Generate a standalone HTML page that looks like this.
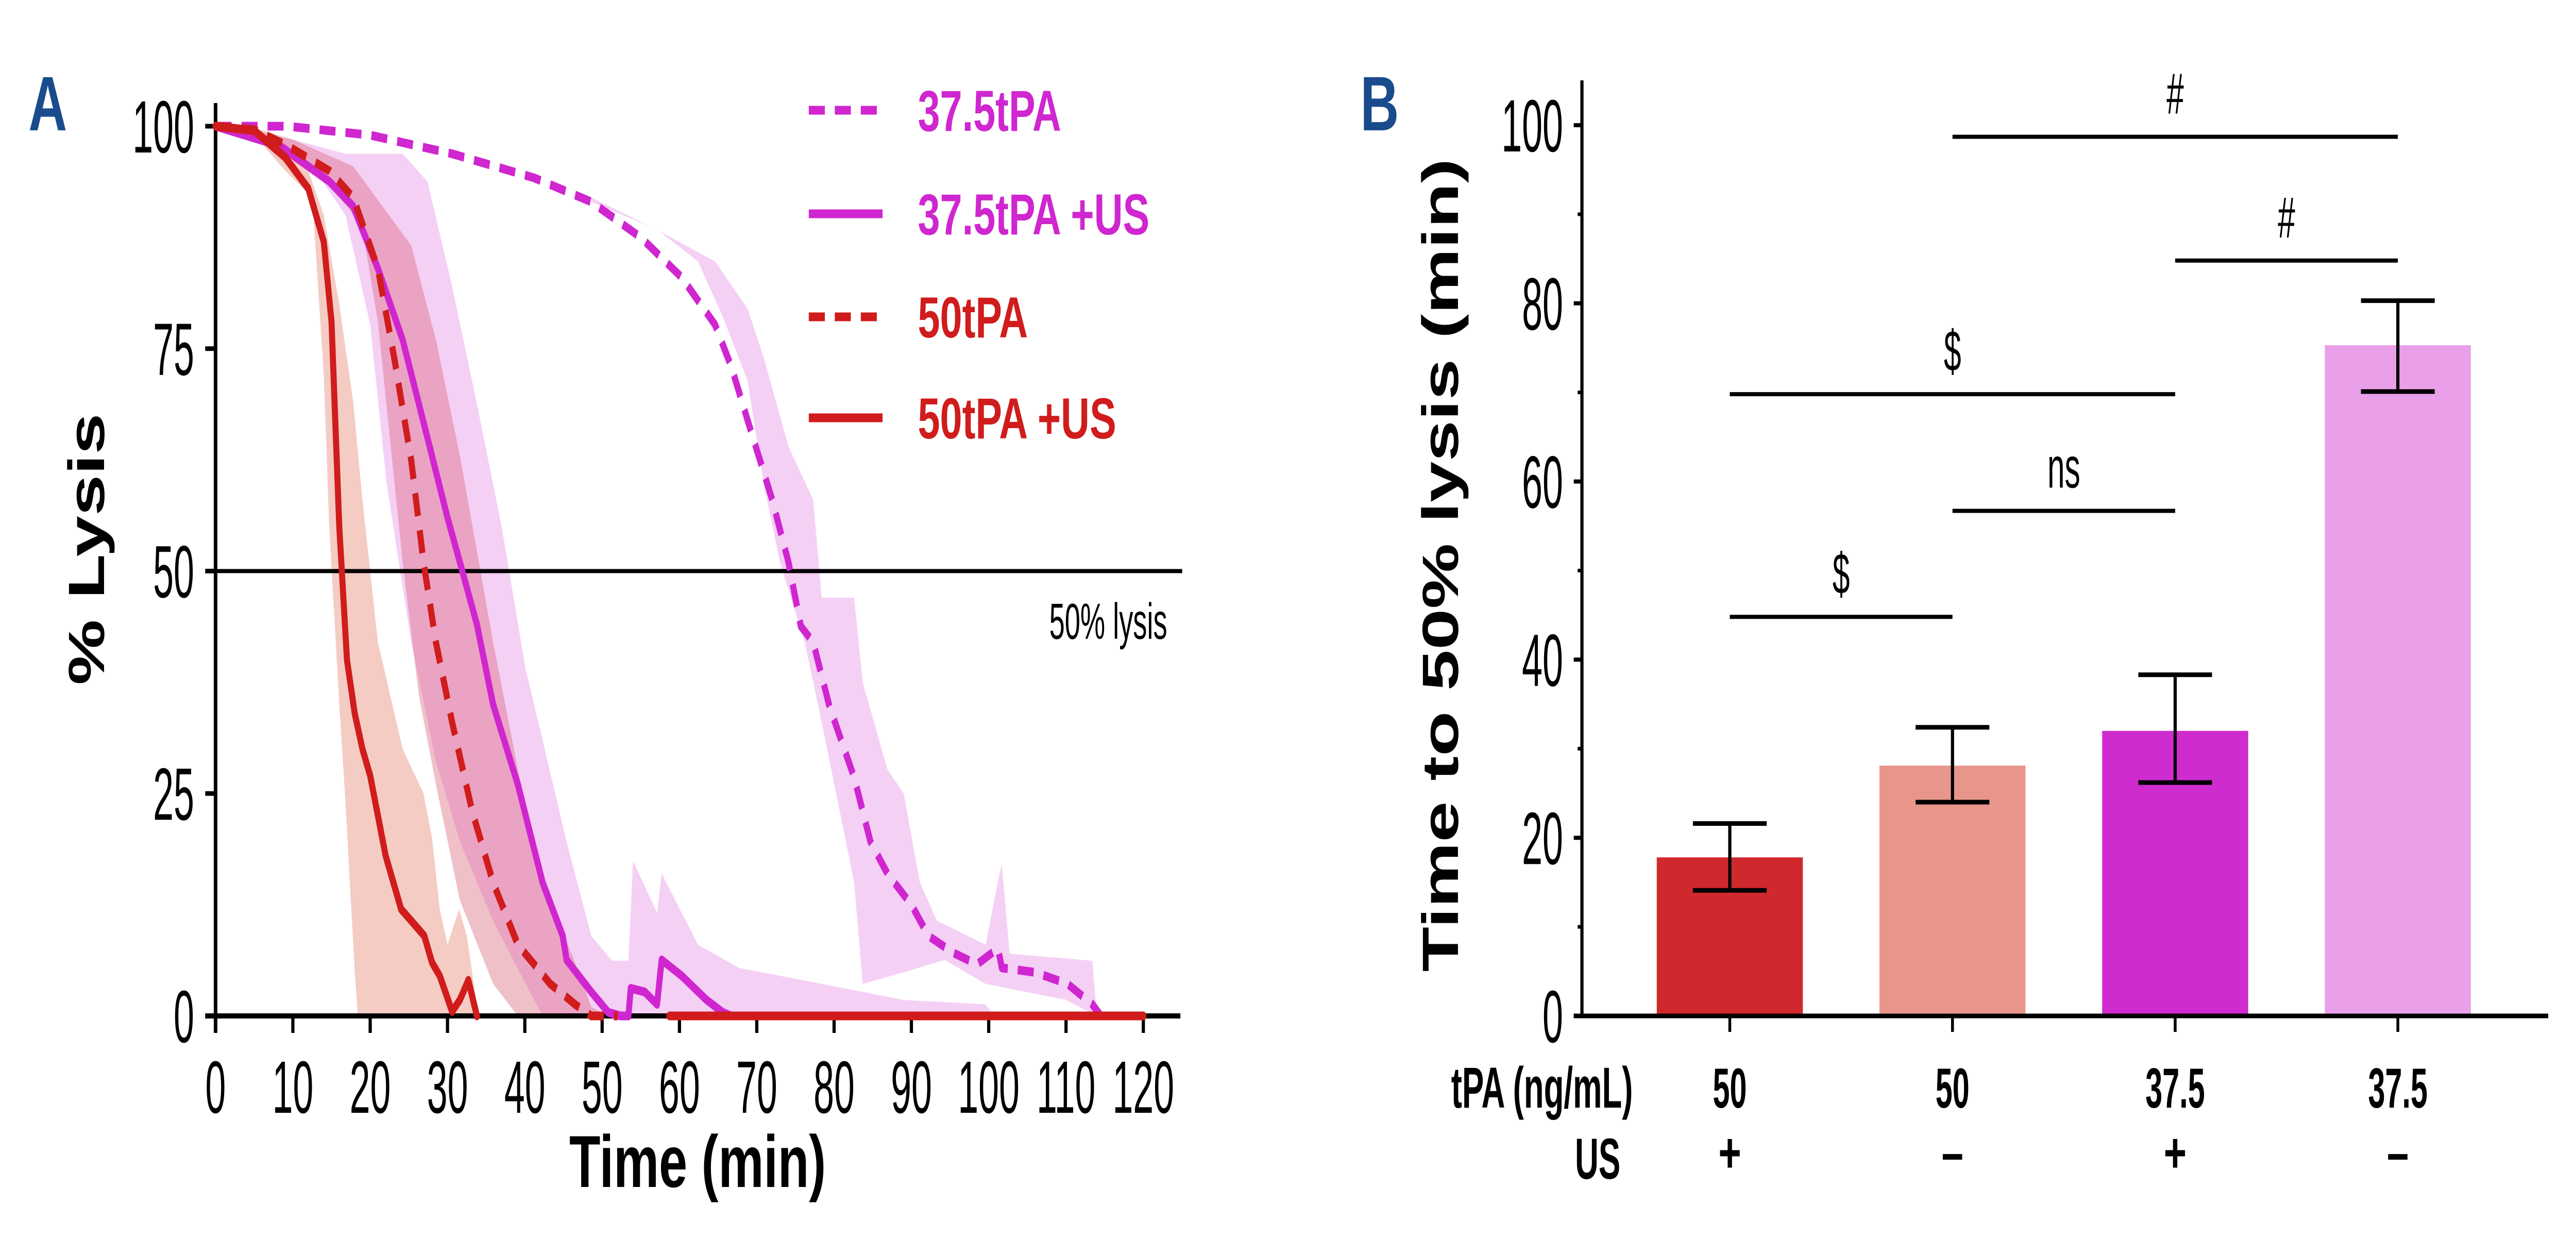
<!DOCTYPE html>
<html><head><meta charset="utf-8"><style>
html,body{margin:0;padding:0;background:#fff;overflow:hidden;width:100%;height:100%;}
svg{display:block;width:100vw;height:100vh;}
text{font-family:"Liberation Sans",Arial,sans-serif;}
</style></head><body>
<svg id="fig" viewBox="0 0 7230 2405" preserveAspectRatio="none" xmlns="http://www.w3.org/2000/svg">
<g id="pa"></g>
<g id="pb"></g>
</svg>
<script>
// ---------- Panel A data ----------
const xTicksA = [0,10,20,30,40,50,60,70,80,90,100,110,120];
const yTicksA = [0,25,50,75,100];

const t_50US = [0,5,9,12,14,15,16,17,18,19,20,22,24,26,27,28,29,30.6,31.6,32.7,33.8];
const v_50US = [100,99.5,96.5,93,87,78,55,40,34,30,27,18,12,10,9,6,4.5,0.5,1.8,4,0];
const t_50USzero = [58.7,120];
const v_50USzero = [0,0];
const bandUpT_50US = [0,5,9,12,14,16,17.8,19,21,24.2,26.9,28,29,30,31.5,32.5,34];
const bandUpV_50US = [100,99.8,98,95,90,80,69,58,42,30,25,20,12,8,12,9,0];
const bandLoT_50US = [0,5,9,12.5,14,14.7,16,16.8,18,18.4,34];
const bandLoV_50US = [100,99,95,92,72,55,35,24,5,0,0];

const t_50 = [0,5,9.3,14.7,17.8,21,23.1,25.3,26.9,28.5,30.6,33.2,35.9,39.1,43.3,46.5,48.6,52];
const v_50 = [100,99.6,97.8,95,92,84,74,62.5,51,42,33,23,15,8,3.6,1.3,0,0];
const bandUpT_50 = [0,5,10,17.8,25.3,28.5,31.6,35.9,39.1,42.3,46.5,48.6,50.8];
const bandUpV_50 = [100,99.8,98.5,95.5,86.6,76,63,42,27.7,15,6,1,0];
const bandLoT_50 = [0,5,10,15,18.9,21,24.2,26.3,28.5,31.6,35.9,39.1];
const bandLoV_50 = [100,99.5,97,93,89,78,51,36,26,13,3.6,0];

const t_37US = [0,8.3,14.7,17.8,21,24.2,27.4,30,31.6,33.8,35.9,39.1,42.3,44.9,45.4,48.6,50.8,52.4,53.4,53.7,55.5,57.1,57.7,60.3,63.5,65.6,66.7];
const v_37US = [100,97.8,93.8,91,84,76,65,56,51,44,35,26,15,9,6.3,2.7,0.4,0,0,3.1,2.7,1.3,6.3,4.5,1.8,0.4,0];
const bandUpT_37US = [0,10,16.8,24.2,27.4,30.6,33.8,37,40.1,42.3,45.4,48.6,51.3,53.4,54,57.1,57.7,62.4,67.7,78.4,89,99.6,100.7];
const bandUpV_37US = [100,98.5,96.9,96.9,93.8,82,68.8,55,39,31,19.6,9,6.2,6.2,17.4,11.6,16,8,5.4,3.6,1.8,1.3,0];
const bandLoT_37US = [0,8,12.5,16.8,20,22.1,25.3,28.5,31.6,35.9,40.1,42.3];
const bandLoV_37US = [100,98,95.5,90,77.7,60,42,28.6,19.6,10.7,3.6,0];

const t_37 = [0,9.3,20,30.6,41.2,48.6,55,60.3,64.6,66.7,68.8,72,74.1,75.7,77.3,79.4,82.6,84.7,86.9,90,92.2,95.4,98.5,101.2,101.7,106,110.2,113.4,114.5];
const v_37 = [100,100,99,96.9,94.2,91.5,87.5,83,77.7,73,67,58,51,43.8,42,34.8,26.8,19.6,16,12.5,9,7.1,5.8,7.6,5.4,4.9,3.6,1.3,0];
const bandUpT_37 = [48.6,57,64.6,68.8,70.9,74.1,77.3,78.4,82.6,83.7,86.9,89,91.1,93.3,99.6,101.4,101.7,102.7,113.4,114];
const bandUpV_37 = [92,88.4,84.8,79.5,74,64,58,47,47,37.5,27.7,25,15,10.7,8,16,17,7,6.2,0];
const bandLoT_37 = [48.6,57.1,62.4,65.6,68.8,70.9,73,76.2,78.4,80.5,82.6,83.7,89,94.3,99.6,110,114];
const bandLoV_37 = [91.5,88.4,84.8,78.6,71.4,59.8,51,42,33,24,15,3.6,4.9,6.3,3.6,1.8,0];

// ---------- Panel B data ----------
const categoriesB = ["50","50","37.5","37.5"];
const usB = ["+","\u2013","+","\u2013"];
const barValues = [17.8,28.1,32.0,75.3];
const errHigh = [21.6,32.4,38.3,80.3];
const errLow = [14.1,24.0,26.2,70.1];
const yTicksB = [0,20,40,60,80,100];
const yMinorB = [10,30,50,70,90];
const sigFrom = [0,1,0,2,1];
const sigTo = [1,2,2,3,3];
const sigLevel = [44.8,56.7,69.8,84.8,98.7];
const sigLabel = ["$","ns","$","#","#"];

const NS = "http://www.w3.org/2000/svg";
function mk(tag, attrs, parent, txt){
  const e = document.createElementNS(NS, tag);
  for (const k in attrs) e.setAttribute(k, attrs[k]);
  if (txt !== undefined) e.textContent = txt;
  parent.appendChild(e);
  return e;
}
const pa = document.getElementById('pa');
const pb = document.getElementById('pb');

const X0A = 605, X1A = 3209, Y0A = 1972, Y1A = 245;
const xA = t => X0A + (X1A - X0A) * t / 120;
const yA = v => Y0A - (Y0A - Y1A) * v / 100;

function pts(ts, vs){ return ts.map((t,i)=> xA(t).toFixed(1)+','+yA(vs[i]).toFixed(1)).join(' '); }
function bandPoly(uT,uV,lT,lV,fill,name){
  const p = pts(uT,uV) + ' ' + pts(lT.slice().reverse(), lV.slice().reverse());
  const e = mk('polygon',{points:p, fill:fill, stroke:'none'}, pa);
  
  
}
const MAG = '#cf26cf', RED = '#d01c1c';
bandPoly(bandUpT_37,bandUpV_37,bandLoT_37,bandLoV_37,'rgba(232,150,232,0.45)','band-37-5tpa');
bandPoly(bandUpT_37US,bandUpV_37US,bandLoT_37US,bandLoV_37US,'rgba(232,150,232,0.45)','band-37-5tpa-us');
bandPoly(bandUpT_50US,bandUpV_50US,bandLoT_50US,bandLoV_50US,'rgba(226,120,100,0.38)','band-50tpa-us');
bandPoly(bandUpT_50,bandUpV_50,bandLoT_50,bandLoV_50,'rgba(215,90,110,0.38)','band-50tpa');

let e = mk('line',{x1:X0A,x2:3318,y1:yA(50),y2:yA(50),stroke:'#000','stroke-width':8},pa);


e = mk('text',{x:0,y:0,'font-size':98,'text-anchor':'end',fill:'#000',transform:'translate(3276,1240) scale(0.8,1)'},pa,'50% lysis');



e = mk('line',{x1:X0A,x2:X0A,y1:200,y2:Y0A+33,stroke:'#000','stroke-width':10},pa);


e = mk('line',{x1:576,x2:3313,y1:Y0A,y2:Y0A,stroke:'#000','stroke-width':10},pa);


function condText(parent,x,y,s,size,anchor,weight,sx,fill){
  return mk('text',{x:0,y:0,'font-size':size,'text-anchor':anchor,'font-weight':weight||'normal',fill:fill||'#000',transform:`translate(${x},${y}) scale(${sx||0.72},1)`},parent,s);
}
xTicksA.forEach(t=>{
  let l = mk('line',{x1:xA(t),x2:xA(t),y1:Y0A,y2:Y0A+33,stroke:'#000','stroke-width':9},pa);
  
  
  let tx = condText(pa,xA(t),2160,String(t),144,'middle');
  
  
});
yTicksA.forEach(v=>{
  let l = mk('line',{x1:576,x2:X0A,y1:yA(v),y2:yA(v),stroke:'#000','stroke-width':9},pa);
  
  
  let tx = condText(pa,545,yA(v)+51,String(v),144,'end');
  
  
});
e = mk('text',{x:1958,y:2304,'font-size':143,'font-weight':'bold','text-anchor':'middle'},pa,'Time (min)');


e = mk('text',{x:0,y:0,'font-size':143,'font-weight':'bold','text-anchor':'middle',transform:'translate(292,1066) rotate(-90)'},pa,'% Lysis');



function series(ts,vs,color,dash,name){
  const l = mk('polyline',{points:pts(ts,vs),fill:'none',stroke:color,'stroke-width':17,'stroke-linejoin':'round','stroke-linecap':dash?'butt':'round'},pa);
  if (dash) l.setAttribute('stroke-dasharray','45 28');
  
  
}
series(t_37,v_37,MAG,true,'line-37-5tpa');
series(t_37US,v_37US,MAG,false,'line-37-5tpa-us');
series(t_50,v_50,RED,true,'line-50tpa');
series(t_50US,v_50US,RED,false,'line-50tpa-us');
series(t_50USzero,v_50USzero,RED,false,'line-50tpa-us-zero');

const legNames = ['37.5tPA','37.5tPA +US','50tPA','50tPA +US'];
const legColors = [MAG,MAG,RED,RED];
const legDash = [true,false,true,false];
const legY = [214,415,615,811];
legNames.forEach((n,i)=>{
  const g = mk('g',{},pa);
  
  
  const l = mk('line',{x1:2270,x2:2477,y1:legY[i],y2:legY[i],stroke:legColors[i],'stroke-width':17},g);
  if (legDash[i]) l.setAttribute('stroke-dasharray','45 28');
  
  
  const t = mk('text',{x:2576,y:legY[i]+40,'font-size':112,'font-weight':'bold',fill:legColors[i]},g,n);
  
  
});
e = mk('text',{x:80,y:253,'font-size':150,'font-weight':'bold',fill:'#1a4b8c'},pa,'A');



// ---------- Panel B ----------
const X0B = 4440, Y0B = 1972, Y1B = 243;
const yB = v => Y0B - (Y0B - Y1B) * v / 100;
const xB = i => 4855 + i * 625;
const barW = 410, capW = 207;
const barColors = ['#d0292d','#e8968c','#cf2ccf','#eaa0e8'];

barValues.forEach((v,i)=>{
  const r = mk('rect',{x:xB(i)-barW/2,y:yB(v),width:barW,height:Y0B-yB(v),fill:barColors[i]},pb);
  
  
  const g = mk('g',{stroke:'#000','stroke-width':9,fill:'none'},pb);
  
  
  mk('line',{x1:xB(i),x2:xB(i),y1:yB(errHigh[i]),y2:yB(errLow[i])},g);
  mk('line',{x1:xB(i)-capW/2,x2:xB(i)+capW/2,y1:yB(errHigh[i]),y2:yB(errHigh[i])},g);
  mk('line',{x1:xB(i)-capW/2,x2:xB(i)+capW/2,y1:yB(errLow[i]),y2:yB(errLow[i])},g);
});
e = mk('line',{x1:X0B,x2:X0B,y1:156,y2:Y0B,stroke:'#000','stroke-width':9},pb);


e = mk('line',{x1:4417,x2:7152,y1:Y0B,y2:Y0B,stroke:'#000','stroke-width':9},pb);


yTicksB.forEach(v=>{
  let l = mk('line',{x1:4417,x2:X0B,y1:yB(v),y2:yB(v),stroke:'#000','stroke-width':8},pb);
  
  
  let tx = condText(pb,4387,yB(v)+51,String(v),144,'end');
  
  
});
yMinorB.forEach(v=>{
  let l = mk('line',{x1:4428,x2:X0B,y1:yB(v),y2:yB(v),stroke:'#000','stroke-width':7},pb);
  
  
});
categoriesB.forEach((c,i)=>{
  let l = mk('line',{x1:xB(i),x2:xB(i),y1:Y0B,y2:2003,stroke:'#000','stroke-width':8},pb);
  
  
  let t = condText(pb,xB(i),2150,c,110,'middle','bold',0.78);
  
  
  let u = mk('text',{x:xB(i),y:2275,'font-size':110,'font-weight':'bold','text-anchor':'middle'},pb,usB[i]);
  
  
});
e = condText(pb,4583,2150,'tPA (ng/mL)',112,'end','bold',0.82);


e = condText(pb,4548,2288,'US',112,'end','bold',0.82);


sigLevel.forEach((lv,k)=>{
  const x1 = xB(sigFrom[k]), x2 = xB(sigTo[k]);
  let l = mk('line',{x1:x1,x2:x2,y1:yB(lv),y2:yB(lv),stroke:'#000','stroke-width':8},pb);
  
  
  let t = condText(pb,(x1+x2)/2,yB(lv)-45,sigLabel[k],112,'middle','normal',0.78);
  
  
});
e = mk('text',{x:0,y:0,'font-size':143,'font-weight':'bold','text-anchor':'middle',transform:'translate(4092,1097) rotate(-90)'},pb,'Time to 50% lysis (min)');


e = mk('text',{x:3818,y:253,'font-size':150,'font-weight':'bold',fill:'#1a4b8c'},pb,'B');


</script>
</body></html>
